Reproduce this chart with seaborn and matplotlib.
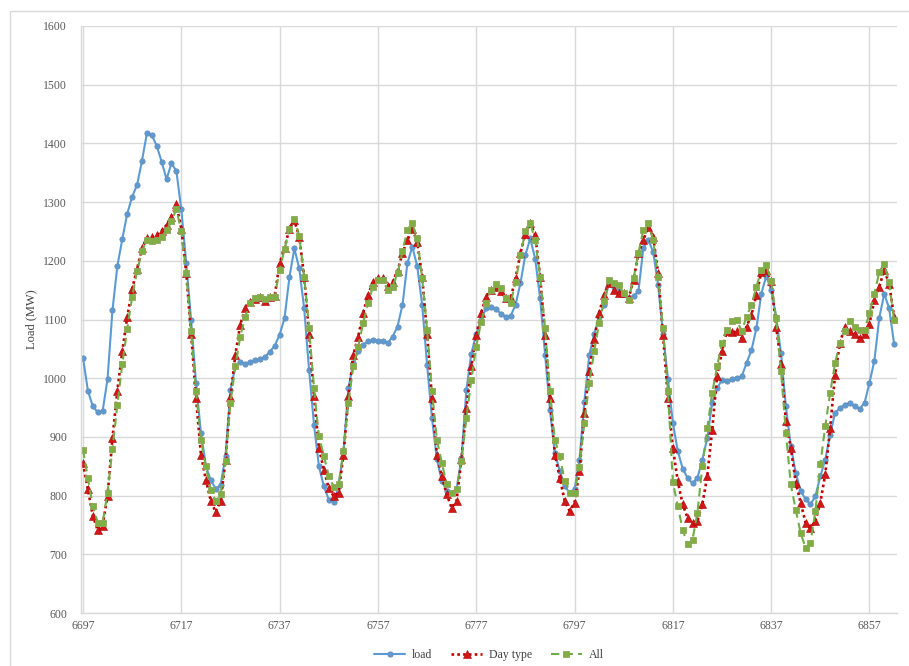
import numpy as np
import pandas as pd
import matplotlib
matplotlib.use("Agg")
import matplotlib.pyplot as plt
from matplotlib.patches import Rectangle
import seaborn as sns

# ---------------- data ----------------
start_index = 6697
x_ticks = [6697, 6717, 6737, 6757, 6777, 6797, 6817, 6837, 6857]
y_ticks = [600, 700, 800, 900, 1000, 1100, 1200, 1300, 1400, 1500, 1600]

load = [
    1035, 979, 952, 942, 944, 999, 1116, 1191, 1237, 1280, 1309, 1329, 1370, 1417, 1414, 1396, 1369, 1339, 1366, 1353, 1288, 1197, 1099, 992, 907,
    851, 826, 812, 818, 868, 980, 1020, 1028, 1024, 1028, 1031, 1032, 1036, 1045, 1055, 1074, 1102, 1172, 1221, 1187, 1119, 1014, 921, 850,
    816, 793, 789, 816, 876, 983, 1026, 1046, 1057, 1063, 1065, 1064, 1063, 1060, 1071, 1088, 1125, 1196, 1224, 1191, 1125, 1023, 932, 862,
    825, 808, 805, 811, 864, 980, 1042, 1075, 1099, 1120, 1121, 1118, 1110, 1105, 1106, 1125, 1162, 1210, 1238, 1203, 1136, 1040, 946, 872,
    842, 816, 805, 811, 860, 960, 1040, 1075, 1105, 1125, 1163, 1155, 1150, 1143, 1137, 1140, 1148, 1222, 1236, 1215, 1159, 1076, 999, 924,
    876, 846, 830, 821, 830, 861, 898, 958, 983, 997, 996, 998, 1000, 1003, 1026, 1048, 1085, 1144, 1174, 1150, 1105, 1043, 952, 884,
    839, 808, 794, 785, 799, 833, 861, 904, 941, 949, 955, 958, 952, 948, 958, 992, 1030, 1103, 1144, 1119, 1059,
]

day_type = [
    855, 811, 766, 741, 749, 800, 898, 979, 1046, 1104, 1152, 1186, 1221, 1238, 1240, 1244, 1251, 1261, 1275, 1296, 1255, 1180, 1075, 966, 870,
    827, 791, 772, 791, 860, 968, 1040, 1091, 1119, 1130, 1135, 1138, 1132, 1138, 1140, 1196, 1221, 1255, 1269, 1241, 1173, 1076, 969, 881,
    844, 813, 799, 805, 870, 969, 1040, 1071, 1111, 1142, 1164, 1170, 1170, 1157, 1164, 1183, 1213, 1235, 1255, 1232, 1173, 1076, 966, 870,
    833, 802, 779, 791, 862, 949, 1020, 1074, 1111, 1139, 1150, 1156, 1148, 1136, 1136, 1170, 1213, 1246, 1264, 1244, 1173, 1074, 966, 870,
    830, 791, 774, 788, 842, 941, 1012, 1067, 1111, 1142, 1163, 1150, 1145, 1145, 1136, 1167, 1213, 1235, 1258, 1241, 1179, 1074, 966, 881,
    825, 785, 762, 754, 757, 785, 833, 912, 1003, 1046, 1080, 1078, 1080, 1068, 1088, 1108, 1142, 1181, 1185, 1165, 1088, 1025, 927, 881,
    822, 788, 754, 745, 757, 788, 836, 915, 1006, 1060, 1088, 1080, 1076, 1068, 1076, 1093, 1133, 1156, 1184, 1161, 1105,
]

all_feat = [
    878, 830, 782, 754, 754, 805, 880, 955, 1024, 1084, 1138, 1182, 1217, 1235, 1233, 1235, 1241, 1252, 1267, 1288, 1250, 1180, 1080, 978, 895,
    850, 810, 791, 802, 859, 958, 1020, 1071, 1105, 1128, 1136, 1139, 1135, 1138, 1139, 1184, 1220, 1255, 1272, 1242, 1173, 1085, 983, 901,
    868, 834, 815, 819, 876, 958, 1020, 1054, 1094, 1128, 1156, 1167, 1167, 1150, 1156, 1179, 1216, 1253, 1264, 1238, 1170, 1082, 978, 895,
    856, 819, 805, 811, 859, 932, 997, 1054, 1096, 1128, 1151, 1160, 1153, 1136, 1128, 1164, 1210, 1250, 1264, 1235, 1173, 1085, 978, 895,
    867, 825, 805, 805, 849, 924, 992, 1046, 1094, 1131, 1167, 1163, 1158, 1145, 1134, 1170, 1213, 1253, 1264, 1235, 1173, 1085, 979, 823,
    782, 742, 717, 725, 771, 850, 915, 975, 1020, 1060, 1082, 1097, 1099, 1080, 1105, 1125, 1156, 1184, 1193, 1165, 1103, 1012, 907, 819,
    776, 736, 711, 720, 774, 853, 918, 975, 1026, 1060, 1080, 1097, 1088, 1082, 1082, 1111, 1144, 1181, 1195, 1164, 1099,
]

series_names = ["load", "Day type", "All"]

# ---------------- figure ----------------
sns.set_theme(style="white")
plt.rcParams["font.family"] = ["Liberation Serif", "DejaVu Serif"]

W, H = 909, 666
fig = plt.figure(figsize=(W / 100, H / 100), dpi=100)
fig.patch.set_facecolor("white")
# chart-area border
fig.patches.append(Rectangle((10 / W, -0.01), 1.02, 1 - 11 / H + 0.01, transform=fig.transFigure,
                             fill=False, edgecolor="#D9D9D9", linewidth=1.0))

ax = fig.add_axes([81 / W, 1 - 613 / H, (897 - 81) / W, (613 - 26) / H])

idx = np.arange(start_index, start_index + len(load))
df = pd.DataFrame({"idx": idx, "load": load, "Day type": day_type, "All": all_feat})

styles = {
    "load": dict(color="#5B9BD5", marker="o", linestyle="-", markersize=3.8, linewidth=1.5,
                 markerfacecolor="#5B9BD5", markeredgecolor="#6A8FB5", markeredgewidth=0.6),
    "Day type": dict(color="#C00000", marker="^", linestyle=(0, (1, 1.2)), markersize=5.2, linewidth=1.9,
                     markerfacecolor="#D01818", markeredgecolor="#B00000", markeredgewidth=0.4),
    "All": dict(color="#70AD47", marker="s", linestyle=(0, (4, 2.5)), markersize=4.6, linewidth=1.5,
                markerfacecolor="#7FAE43", markeredgecolor="#8FA85A", markeredgewidth=0.6),
}

for name in series_names:
    st = styles[name]
    sns.lineplot(data=df, x="idx", y=name, ax=ax, label=name, **st)

ax.set_xlim(6696.6, 6862.6)
ax.set_ylim(600, 1600)
ax.set_xticks(x_ticks)
ax.set_yticks(y_ticks)
ax.set_xticklabels([str(t) for t in x_ticks])
ax.set_yticklabels([str(t) for t in y_ticks])
ax.tick_params(axis="both", length=0, labelsize=8.5, labelcolor="#595959")
ax.tick_params(axis="x", pad=5)
ax.tick_params(axis="y", pad=10)
ax.grid(True, color="#D9D9D9", linewidth=1.0)
ax.set_axisbelow(True)
for s in ["top", "right"]:
    ax.spines[s].set_visible(False)
for s in ["left", "bottom"]:
    ax.spines[s].set_color("#D9D9D9")
    ax.spines[s].set_linewidth(1.0)

ax.set_xlabel("")
ax.set_ylabel("Load (MW)", fontsize=9, color="#404040", labelpad=4)

leg = ax.legend(loc="center", bbox_to_anchor=(0.5, -0.072), ncol=3, frameon=False,
                fontsize=8.5, handlelength=2.6, columnspacing=1.6, handletextpad=0.6)
for t in leg.get_texts():
    t.set_color("#404040")

fig.savefig("out.png", dpi=100, facecolor="white")
